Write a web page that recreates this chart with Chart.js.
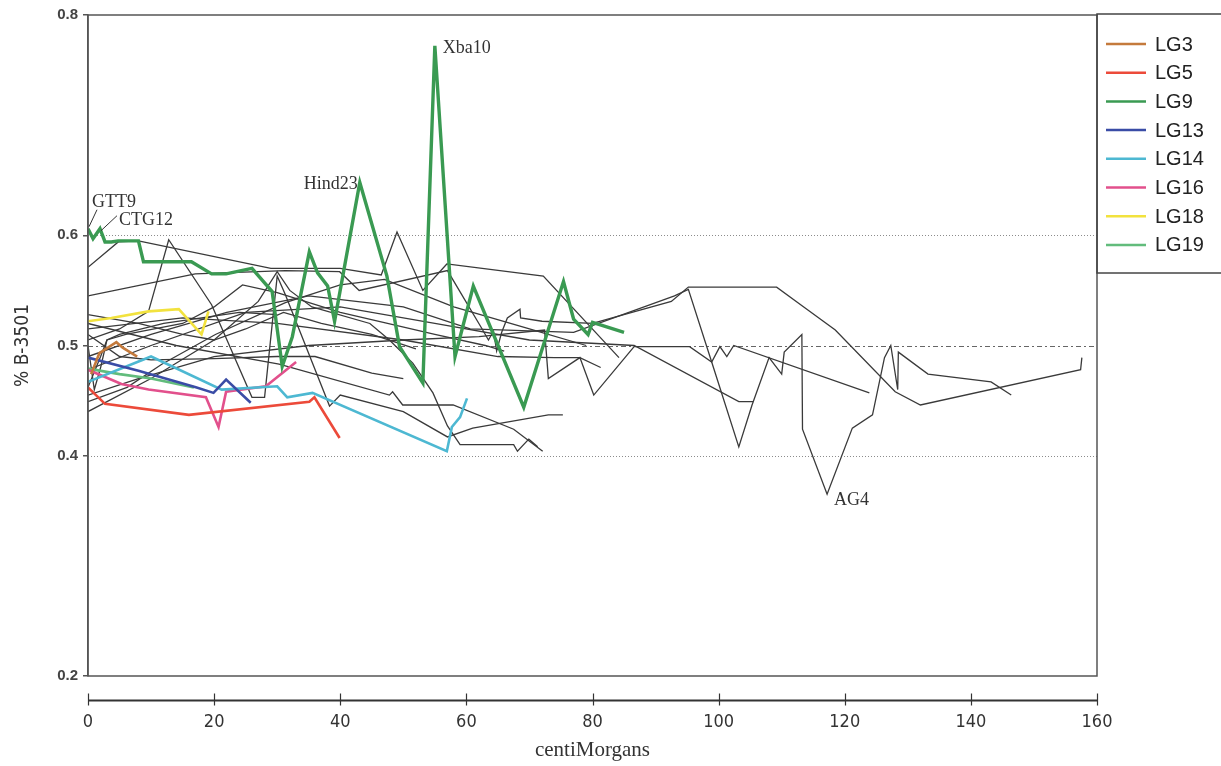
<!DOCTYPE html>
<html>
<head>
<meta charset="utf-8">
<script src="https://cdn.jsdelivr.net/npm/chart.js@4.4.1/dist/chart.umd.min.js"></script>
<style>
  html, body { margin: 0; padding: 0; background: #fff; }
  .chart-wrap { position: relative; width: 1221px; height: 766px; }
</style>
</head>
<body>
<div class="chart-wrap"><canvas id="chart" width="1221" height="766"></canvas></div>
<script>
// linkage groups shown in colour (cM, fraction B-3501)
const lgNames = ['LG3', 'LG5', 'LG9', 'LG13', 'LG14', 'LG16', 'LG18', 'LG19'];
const lgColors = ['#c47a3c', '#ec4a3a', '#3a9a52', '#3a4ca6', '#4db8d2', '#e2508c', '#f2e23e', '#62bc7c'];

const lg3 = [[0.5, 0.474], [1.8, 0.493], [4.5, 0.503], [5.5, 0.498], [7.8, 0.490]];
const lg5 = [[0, 0.462], [2.7, 0.447], [16, 0.437], [35.1, 0.449], [35.9, 0.453], [39.9, 0.416]];
const lg9 = [[0, 0.606], [0.8, 0.597], [1.9, 0.606], [2.7, 0.594], [3.7, 0.594], [4.8, 0.595], [8, 0.595],
  [8.8, 0.576], [16.4, 0.576], [19.6, 0.565], [21.9, 0.565], [26, 0.570], [29.2, 0.549], [30.8, 0.481],
  [32.4, 0.508], [35.1, 0.585], [36.4, 0.566], [38, 0.554], [39.1, 0.522], [43.1, 0.648], [47.4, 0.563],
  [49.4, 0.499], [53.1, 0.466], [55, 0.772], [58.2, 0.490], [61.1, 0.554], [69.1, 0.444], [75.4, 0.558],
  [77, 0.524], [79.3, 0.510], [80, 0.521], [85, 0.512]];
const lg13 = [[0, 0.489], [8, 0.477], [17.1, 0.462], [19.9, 0.457], [21.9, 0.469], [25.8, 0.448]];
const lg14 = [[0, 0.467], [10, 0.490], [21.2, 0.460], [30, 0.463], [31.6, 0.453], [35.6, 0.457],
  [56.9, 0.404], [57.7, 0.426], [59, 0.435], [60.1, 0.452]];
const lg16 = [[0, 0.478], [5.3, 0.465], [9.6, 0.460], [18.7, 0.453], [20.7, 0.426], [21.9, 0.458],
  [28.2, 0.463], [33, 0.485]];
const lg18 = [[0, 0.522], [3.7, 0.525], [9.6, 0.531], [14.4, 0.533], [18, 0.510], [19.1, 0.531]];
const lg19 = [[0, 0.479], [5, 0.474], [10, 0.470], [16.8, 0.462]];
const lgData = [lg3, lg5, lg9, lg13, lg14, lg16, lg18, lg19];

// remaining groups, drawn in dark grey
const trace1 = [[0, 0.571], [4.8, 0.594], [8, 0.595], [29, 0.570], [40, 0.570], [46.5, 0.564], [49, 0.603],
  [53.1, 0.550], [56.9, 0.574], [72.2, 0.563], [84.2, 0.489]];
const trace2 = [[0, 0.505], [5, 0.515], [9.6, 0.531], [12.8, 0.596], [19.6, 0.537], [26, 0.453], [28, 0.453],
  [30, 0.563], [31.3, 0.546], [38.3, 0.445], [40, 0.455], [50, 0.440], [57, 0.417], [61, 0.425], [73, 0.437], [75.3, 0.437]];
const trace3 = [[0, 0.520], [14, 0.500], [30.3, 0.483], [47.8, 0.455], [48.3, 0.458], [49.9, 0.446],
  [57.9, 0.446], [67.5, 0.424], [72.1, 0.404]];
const trace4 = [[0, 0.440], [10, 0.470], [20, 0.505], [27, 0.540], [30, 0.567], [32, 0.550], [35.5, 0.535],
  [44.7, 0.520], [47.8, 0.505], [51.5, 0.484], [54.7, 0.457], [57, 0.427], [59, 0.410], [67.5, 0.410],
  [68.1, 0.404], [69.9, 0.415], [71.3, 0.408]];
const trace5 = [[0, 0.545], [17, 0.565], [31.3, 0.568], [39.9, 0.567], [43, 0.550], [57, 0.568], [62.5, 0.515],
  [63.5, 0.505], [64.3, 0.513], [64.8, 0.495], [65.6, 0.512], [66.5, 0.525], [68.5, 0.533], [68.6, 0.525],
  [72, 0.522], [80, 0.520], [92.5, 0.540], [95.2, 0.553], [109.2, 0.553], [113.5, 0.535], [118.5, 0.514],
  [128, 0.458], [132, 0.446], [157.4, 0.478], [157.6, 0.489]];
const trace6 = [[0, 0.490], [10, 0.510], [22, 0.530], [35, 0.545], [50, 0.535], [60.6, 0.515], [77, 0.512],
  [93, 0.545], [95.2, 0.551], [98.9, 0.485], [103.2, 0.408], [105.3, 0.446], [108, 0.489], [110, 0.474],
  [110.4, 0.494], [113.2, 0.510], [113.3, 0.424], [117.2, 0.365], [121.2, 0.425], [124.4, 0.437],
  [126.3, 0.489], [127.3, 0.500], [128.4, 0.460], [128.5, 0.494], [133.2, 0.474], [143.2, 0.467], [146.4, 0.455]];
const trace7 = [[0, 0.455], [8, 0.470], [20, 0.490], [35, 0.500], [50, 0.505], [62, 0.508], [72.4, 0.514],
  [73, 0.470], [78, 0.489], [80.2, 0.455], [86.6, 0.499], [95.4, 0.499], [98.9, 0.485], [100.2, 0.499],
  [101.3, 0.490], [102.4, 0.500], [123.9, 0.457]];
const trace8 = [[0, 0.478], [10, 0.500], [25, 0.530], [40, 0.535], [55, 0.520], [70, 0.505], [86.6, 0.500],
  [103.2, 0.449], [105.5, 0.449]];
const trace9 = [[0, 0.515], [15, 0.525], [30, 0.520], [50, 0.505], [65, 0.490], [74, 0.489], [78, 0.489], [81.3, 0.480]];
const trace10 = [[0, 0.449], [6.2, 0.462], [11.7, 0.483], [20.2, 0.510], [31.3, 0.539], [40, 0.555],
  [47, 0.560], [58, 0.535], [70, 0.515], [79, 0.500]];
const trace11 = [[0, 0.528], [8, 0.520], [15, 0.510], [20, 0.505], [25, 0.515], [31, 0.530], [37, 0.520],
  [45, 0.510], [52, 0.497]];
const trace12 = [[0, 0.510], [5, 0.490], [10, 0.487], [20, 0.488], [30, 0.490], [36, 0.490], [45, 0.475], [50, 0.470]];
const trace13 = [[0, 0.500], [1, 0.460], [2, 0.480], [3, 0.505], [5, 0.510], [12, 0.520], [24, 0.530], [30, 0.528]];
const trace14 = [[0, 0.462], [2, 0.490], [3, 0.505], [6, 0.510], [15, 0.520], [20, 0.535], [24.5, 0.555],
  [30, 0.548], [40, 0.530], [55, 0.510], [63, 0.500], [66, 0.495]];
const otherLines = [trace1, trace2, trace3, trace4, trace5, trace6, trace7, trace8, trace9, trace10,
  trace11, trace12, trace13, trace14];

const xTicks = [0, 20, 40, 60, 80, 100, 120, 140, 160];
const yTicks = [0.2, 0.4, 0.5, 0.6, 0.8];
const refValues = [0.4, 0.5, 0.6];

// named markers, anchored on a data point
const markers = [
  { text: 'GTT9', x: 0, y: 0.606 },
  { text: 'CTG12', x: 1.9, y: 0.606 },
  { text: 'Hind23', x: 43.1, y: 0.648 },
  { text: 'Xba10', x: 55, y: 0.772 },
  { text: 'AG4', x: 117.2, y: 0.365 }
];

const toXY = pts => pts.map(([x, y]) => ({ x, y }));

const datasets = [];
lgData.forEach((pts, i) => {
  datasets.push({
    label: lgNames[i],
    data: toXY(pts),
    borderColor: lgColors[i],
    borderWidth: lgNames[i] === 'LG9' ? 3.4 : 2.6
  });
});
otherLines.forEach((pts, i) => {
  datasets.push({
    label: 'other ' + (i + 1),
    data: toXY(pts),
    borderColor: '#3a3a3a',
    borderWidth: 1.3
  });
});

// text placement for markers (pixel offsets from the anchor)
const markerStyle = {
  GTT9: { dx: 4, dy: -22, align: 'left', lead: [1, -2, 9, -19] },
  CTG12: { dx: 19, dy: -4, align: 'left', lead: [1, 2, 17, -13] },
  Hind23: { dx: -2, dy: 7, align: 'right' },
  Xba10: { dx: 8, dy: 7, align: 'left' },
  AG4: { dx: 7, dy: 11, align: 'left' }
};

const decorations = {
  id: 'decorations',
  beforeDatasetsDraw(chart) {
    const { ctx, chartArea: a, scales: { y } } = chart;
    ctx.save();
    refValues.forEach(v => {
      const py = Math.round(y.getPixelForValue(v)) + 0.5;
      ctx.beginPath();
      ctx.strokeStyle = v === 0.5 ? '#666' : '#8c8c8c';
      ctx.lineWidth = 1;
      ctx.setLineDash(v === 0.5 ? [5, 3, 2, 3] : [1, 2]);
      ctx.moveTo(a.left, py);
      ctx.lineTo(a.right, py);
      ctx.stroke();
    });
    ctx.restore();
  },
  afterDatasetsDraw(chart) {
    const { ctx, chartArea: a, scales: { x, y } } = chart;
    ctx.save();

    // plot frame
    ctx.strokeStyle = '#555';
    ctx.lineWidth = 1.5;
    ctx.strokeRect(a.left, a.top, a.right - a.left, a.bottom - a.top);

    // detached x axis below the frame
    const axisY = a.bottom + 24.5;
    ctx.strokeStyle = '#333';
    ctx.lineWidth = 2;
    ctx.beginPath();
    ctx.moveTo(x.getPixelForValue(xTicks[0]), axisY);
    ctx.lineTo(x.getPixelForValue(xTicks[xTicks.length - 1]), axisY);
    ctx.stroke();
    ctx.lineWidth = 1.2;
    xTicks.forEach(v => {
      const px = Math.round(x.getPixelForValue(v)) + 0.5;
      ctx.beginPath();
      ctx.moveTo(px, axisY - 7);
      ctx.lineTo(px, axisY + 5);
      ctx.stroke();
    });

    // marker labels
    ctx.font = '18px "Liberation Serif", "Times New Roman", serif';
    ctx.fillStyle = '#333';
    ctx.textBaseline = 'alphabetic';
    markers.forEach(m => {
      const s = markerStyle[m.text];
      const px = x.getPixelForValue(m.x);
      const py = y.getPixelForValue(m.y);
      if (s.lead) {
        ctx.strokeStyle = '#333';
        ctx.lineWidth = 1;
        ctx.beginPath();
        ctx.moveTo(px + s.lead[0], py + s.lead[1]);
        ctx.lineTo(px + s.lead[2], py + s.lead[3]);
        ctx.stroke();
      }
      ctx.textAlign = s.align;
      ctx.fillText(m.text, px + s.dx, py + s.dy);
    });

    // boxed legend at the right
    const lx = a.right;
    const ly = a.top - 1;
    ctx.strokeStyle = '#444';
    ctx.lineWidth = 1.5;
    ctx.strokeRect(lx, ly, 140, 259);
    ctx.font = '20px "Liberation Sans", Arial, sans-serif';
    ctx.textAlign = 'left';
    ctx.textBaseline = 'middle';
    lgNames.forEach((name, i) => {
      const ry = ly + 30 + i * 28.7;
      ctx.strokeStyle = lgColors[i];
      ctx.lineWidth = 2.5;
      ctx.beginPath();
      ctx.moveTo(lx + 9, ry);
      ctx.lineTo(lx + 49, ry);
      ctx.stroke();
      ctx.fillStyle = '#222';
      ctx.fillText(name, lx + 58, ry + 1);
    });
    ctx.restore();
  }
};

new Chart(document.getElementById('chart'), {
  type: 'line',
  data: { datasets },
  options: {
    responsive: false,
    animation: false,
    layout: { padding: { top: 15, right: 124, bottom: 0, left: 0 } },
    elements: { point: { radius: 0 }, line: { tension: 0, fill: false } },
    plugins: { legend: { display: false }, tooltip: { enabled: false } },
    scales: {
      x: {
        type: 'linear',
        min: 0,
        max: 160,
        afterBuildTicks: s => { s.ticks = xTicks.map(v => ({ value: v })); },
        afterFit: s => { s.height = 90; },
        grid: { display: false, drawTicks: false },
        border: { display: false },
        ticks: {
          padding: 36,
          color: '#333',
          font: { family: '"Liberation Sans Narrow", "DejaVu Sans Condensed", sans-serif', size: 18 }
        },
        title: {
          display: true,
          text: 'centiMorgans',
          color: '#333',
          font: { family: '"Liberation Serif", "Times New Roman", serif', size: 21 },
          padding: { top: 0, bottom: 3 }
        }
      },
      y: {
        type: 'linear',
        min: 0.2,
        max: 0.8,
        afterBuildTicks: s => { s.ticks = yTicks.map(v => ({ value: v })); },
        afterFit: s => { s.width = 88; },
        grid: { drawOnChartArea: false, tickLength: 5, color: '#555', lineWidth: 1.5 },
        border: { display: true, color: '#555', width: 1.5 },
        ticks: {
          padding: 5,
          color: '#444',
          callback: v => v.toFixed(1),
          font: { family: '"Liberation Sans", Arial, sans-serif', size: 15, weight: 'bold' }
        },
        title: {
          display: true,
          text: '% B-3501',
          color: '#333',
          font: { family: '"Liberation Sans Narrow", "DejaVu Sans Condensed", sans-serif', size: 19 },
          padding: { top: 12, bottom: 0 }
        }
      }
    }
  },
  plugins: [decorations]
});
</script>
</body>
</html>
